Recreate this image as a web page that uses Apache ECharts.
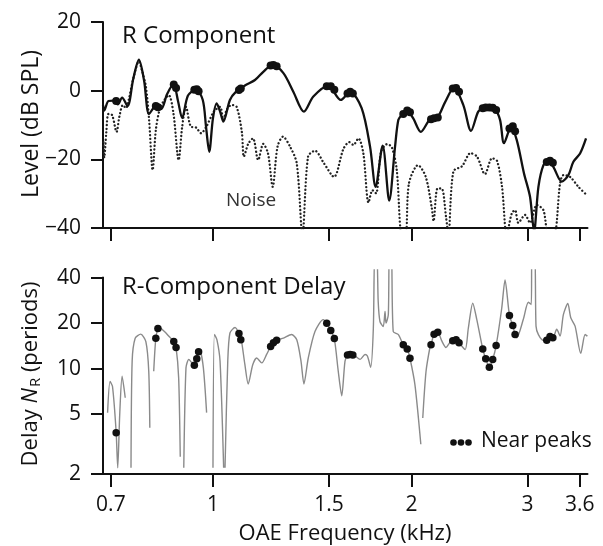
<!DOCTYPE html>
<html>
<head>
<meta charset="utf-8">
<script src="https://cdn.jsdelivr.net/npm/echarts@6/dist/echarts.min.js"></script>
<style>
  html, body { margin: 0; padding: 0; background: #ffffff; }
  #chart { width: 603px; height: 546px; }
</style>
</head>
<body>
<div id="chart"></div>
<script>
// Tick positions
const freqTicks = [0.7, 1, 1.5, 2, 3, 3.6];
const levelTicks = [-40, -20, 0, 20];
const delayTicks = [2, 5, 10, 20, 40];

// R component level (dB SPL) vs OAE frequency (kHz)
const freqR = [0.681,0.684,0.694,0.706,0.717,0.728,0.742,0.757,0.772,0.786,0.800,0.819,0.834,0.852,0.871,0.885,0.898,0.916,0.942,0.965,0.976,0.987,1.000,1.013,1.025,1.037,1.061,1.084,1.118,1.158,1.192,1.232,1.279,1.324,1.374,1.420,1.496,1.563,1.614,1.681,1.731,1.765,1.809,1.851,1.889,1.911,1.934,1.971,2.013,2.067,2.135,2.190,2.249,2.321,2.398,2.463,2.526,2.571,2.626,2.679,2.726,2.764,2.833,2.890,2.964,3.027,3.070,3.117,3.172,3.228,3.284,3.382,3.461,3.522,3.605,3.681];
const levelR = [-4.2,-5.8,-3.0,-2.9,-4.0,-2.0,-4.5,3.5,9.0,3.0,-6.8,-4.5,-5.4,-1.0,2.0,-3.0,-8.0,-1.5,0.4,-2.7,-10.5,-17.8,-8.0,-3.7,-6.0,-9.0,-2.7,-0.3,1.5,3.1,5.5,7.5,5.1,-0.3,-6.1,-1.7,1.4,-2.7,-0.3,-5.1,-16.3,-28.0,-16.0,-32.0,-16.3,-8.5,-7.1,-5.8,-8.1,-12.0,-8.3,-7.8,-3.4,0.9,-4.2,-11.7,-6.1,-5.1,-5.0,-5.4,-8.5,-15.3,-10.6,-14.4,-24.1,-30.9,-41,-28.0,-21.7,-20.4,-22.2,-26.5,-24.6,-20.7,-18.3,-13.9];

// Noise floor (dB SPL)
const freqNoise = [0.682,0.684,0.689,0.694,0.703,0.714,0.721,0.730,0.738,0.745,0.758,0.772,0.780,0.791,0.800,0.810,0.819,0.831,0.844,0.857,0.871,0.887,0.898,0.910,0.926,0.942,0.959,0.977,1.003,1.025,1.037,1.049,1.067,1.086,1.106,1.114,1.131,1.150,1.171,1.192,1.212,1.232,1.253,1.277,1.309,1.340,1.367,1.394,1.428,1.474,1.526,1.577,1.610,1.633,1.662,1.691,1.722,1.746,1.768,1.798,1.835,1.867,1.900,1.934,1.960,1.983,2.047,2.102,2.147,2.161,2.191,2.223,2.257,2.276,2.316,2.387,2.459,2.515,2.586,2.651,2.698,2.745,2.790,2.840,2.873,2.906,2.975,3.027,3.099,3.172,3.228,3.292,3.362,3.401,3.481,3.584,3.690];
const levelNoise = [-15,-19.5,-12,-6.8,-7.1,-12,-7.6,-4.2,-5.1,-2.7,4,8.5,6,1.2,-8.5,-23.1,-11.5,-5.1,-2.7,-1.3,-6.6,-20.2,-10.5,-4.7,-10.5,-10.7,-12.4,-10.5,-6.1,-4.7,-8.5,-5.6,-4.2,-4.7,-12,-19.2,-15.5,-13.9,-20.2,-15.5,-18.3,-28,-16.3,-13.4,-16.3,-21.2,-42,-19.2,-17.5,-21.2,-25.1,-17,-15,-15.8,-13.9,-18.3,-32.6,-29,-29.9,-18,-15.6,-16.4,-23,-42,-42,-27,-21.7,-25,-34,-38,-28.5,-28.5,-36.7,-42,-23.5,-22,-18.2,-19.2,-24.3,-19.7,-20.5,-28,-42,-35.7,-34.8,-38.5,-36.2,-38.5,-33.3,-34.8,-42,-42,-27,-24.6,-25.1,-28,-30.4];

// R-component delay N_R (periods); null marks a break in the curve
const freqDelay = [0.692,0.698,0.704,0.713,0.717,0.722,0.728,0.736,0.744,
  0.751,0.754,0.762,0.777,0.791,0.799,0.802,0.808,
  0.813,0.819,0.825,0.829,0.844,0.858,0.872,0.879,0.887,0.892,0.898,
  0.903,0.910,0.919,0.929,0.937,0.945,0.951,0.956,0.967,0.978,0.990,
  1.000,1.005,1.014,1.025,1.038,1.040,
  1.043,1.053,1.061,1.080,1.095,1.102,1.106,1.118,1.131,1.149,1.165,1.186,1.206,1.223,1.235,1.249,1.279,1.316,1.340,1.360,1.374,1.395,1.428,1.470,1.488,1.509,1.528,1.549,1.568,1.586,1.600,1.615,1.630,1.643,1.672,1.701,1.715,1.735,1.751,1.760,1.772,1.781,1.792,1.813,1.824,1.830,1.845,1.852,1.865,1.877,1.911,1.944,1.971,1.990,2.025,2.067,2.074,
  2.081,2.105,2.135,2.142,2.165,2.193,2.223,2.257,2.303,2.311,2.338,2.362,2.413,2.440,2.478,2.513,2.566,2.593,2.626,2.657,2.689,2.742,2.774,2.817,2.850,2.873,2.890,2.957,3.009,3.040,3.047,3.077,3.091,3.117,3.172,3.209,3.246,3.278,3.323,3.362,3.401,3.454,3.490,3.543,3.614,3.669,3.699];
const delayNR = [5.1,8.2,7.6,3.8,2.2,5.0,8.9,6.4,null,
  2.2,11.2,15.9,16.9,15.1,9.6,4.05,null,
  9.6,15.9,18.4,18.7,17.6,16.3,15.1,13.8,8.7,2.6,null,
  2.2,10.1,11.5,10.9,10.5,11.6,12.9,13.0,10.1,5.1,null,
  2.2,16.8,15.5,11.2,2.2,null,
  2.2,11.2,17.2,18.7,17.1,15.5,14.8,10.6,7.9,10.6,11.75,10.9,12.4,14.0,14.8,15.4,15.9,16.8,15.5,11.2,7.9,11.75,17.6,21.1,20.0,17.9,15.8,9.6,6.6,11.2,12.3,12.4,12.3,12.1,11.5,12.4,12.1,10.2,18.5,60,60,27.8,20.5,19.0,23.9,20.0,22.7,60,60,17.6,16.8,14.4,13.5,11.7,7.8,3.15,null,
  4.7,9.6,14.0,14.4,16.9,17.4,15.3,13.8,15.3,15.3,15.5,14.8,13.35,18.5,27.1,21.2,13.5,11.6,10.2,11.5,14.2,25.1,38.7,22.5,19.3,16.8,16.0,21.2,27.5,26.6,60,60,19.1,16.8,15.4,15.4,16.3,16.0,18.2,16.4,22.8,27.0,21.7,19.1,12.6,16.8,16.4];

// Points near spectral peaks
const peakFreq = [0.713,0.819,0.825,0.872,0.879,0.937,0.945,0.951,1.095,1.102,1.223,1.235,1.249,1.488,1.509,1.528,1.600,1.615,1.630,1.944,1.971,1.990,2.142,2.165,2.193,2.311,2.338,2.362,2.566,2.593,2.626,2.657,2.689,2.817,2.850,2.873,3.209,3.246,3.278];
const peakLevel = [-3.0,-4.5,-4.8,1.8,0.8,0.3,0.4,-0.2,0.2,0.6,7.3,7.5,7.1,1.3,1.3,0.3,-0.8,-0.3,-0.8,-6.8,-5.8,-6.3,-8.3,-8.0,-7.8,0.6,0.8,-0.3,-5.1,-4.9,-4.9,-5.0,-5.6,-11.0,-10.4,-11.8,-20.8,-20.4,-21.0];
const peakDelay = [3.76,15.9,18.4,15.1,13.8,10.5,11.6,12.9,17.1,15.5,14.0,14.8,15.4,20.0,17.9,15.8,12.3,12.4,12.3,14.4,13.5,11.7,14.4,16.9,17.4,15.3,15.5,14.8,13.5,11.6,10.2,11.5,14.2,22.5,19.3,16.8,15.4,16.3,16.0];

const FONT = 'Open Sans';
const INK = '#111111';
const FREQ_MIN = 0.681, FREQ_MAX = 3.70;
const DELAY_MIN = 2, DELAY_MAX = 45;

const pairs = (xs, ys) => xs.map((x, i) => [x, ys[i] === null ? '-' : ys[i]]);

const axisLineStyle = { color: INK, width: 2 };
const freqAxis = (gridIndex, showLabels) => ({
  type: 'log', logBase: 10, gridIndex,
  min: FREQ_MIN, max: FREQ_MAX,
  axisLine: { onZero: false, lineStyle: axisLineStyle },
  axisTick: { customValues: freqTicks, length: 13, lineStyle: { color: INK, width: 2 } },
  minorTick: { show: false },
  splitLine: { show: false },
  axisLabel: {
    show: showLabels, customValues: freqTicks, margin: 21,
    fontFamily: FONT, fontSize: 21, color: INK,
    formatter: v => String(v)
  }
});

const chart = echarts.init(document.getElementById('chart'), null, { renderer: 'canvas' });

chart.setOption({
  animation: false,
  backgroundColor: '#ffffff',
  grid: [
    { left: 103, right: 15.5, top: 22, height: 206 },
    { left: 103, right: 15.5, top: 270, height: 204 }
  ],
  xAxis: [freqAxis(0, false), freqAxis(1, true)],
  yAxis: [
    {
      type: 'value', gridIndex: 0, min: -40, max: 20, interval: 20,
      axisLine: { show: true, lineStyle: axisLineStyle },
      axisTick: { show: true, length: 12, lineStyle: { color: INK, width: 2 } },
      splitLine: { show: false },
      axisLabel: {
        margin: 22, fontFamily: FONT, fontSize: 21, color: INK,
        formatter: v => (v < 0 ? '\u2212' + Math.abs(v) : String(v))
      }
    },
    {
      type: 'log', logBase: 10, gridIndex: 1, min: DELAY_MIN, max: DELAY_MAX,
      axisLine: { show: false },
      axisTick: { show: true, customValues: delayTicks, length: 12, lineStyle: { color: INK, width: 2 } },
      minorTick: { show: false },
      splitLine: { show: false },
      axisLabel: {
        customValues: delayTicks, margin: 22, fontFamily: FONT, fontSize: 21, color: INK,
        formatter: v => String(v)
      }
    }
  ],
  series: [
    {
      name: 'Noise', type: 'line', xAxisIndex: 0, yAxisIndex: 0,
      data: pairs(freqNoise, levelNoise),
      showSymbol: false, symbol: 'none', smooth: 0.3,
      lineStyle: { color: '#222222', width: 2.3, type: [0.1, 3.6], cap: 'round' },
      z: 2
    },
    {
      name: 'R Component', type: 'line', xAxisIndex: 0, yAxisIndex: 0,
      data: pairs(freqR, levelR),
      showSymbol: false, symbol: 'none', smooth: 0.3,
      lineStyle: { color: INK, width: 2.3 },
      z: 3
    },
    {
      name: 'Level near peaks', type: 'scatter', xAxisIndex: 0, yAxisIndex: 0,
      data: pairs(peakFreq, peakLevel),
      symbol: 'circle', symbolSize: 8,
      itemStyle: { color: INK, opacity: 1 },
      z: 4
    },
    {
      name: 'Delay', type: 'line', xAxisIndex: 1, yAxisIndex: 1,
      data: pairs(freqDelay, delayNR),
      showSymbol: false, symbol: 'none', smooth: 0.25,
      lineStyle: { color: '#8a8a8a', width: 1.4 },
      z: 2
    },
    {
      name: 'Near peaks', type: 'scatter', xAxisIndex: 1, yAxisIndex: 1,
      data: pairs(peakFreq, peakDelay),
      symbol: 'circle', symbolSize: 7.5,
      itemStyle: { color: INK, opacity: 1 },
      z: 4
    }
  ]
});

// Left axis line of the delay panel spans the labelled range only
const axTop = chart.convertToPixel({ gridIndex: 1 }, [FREQ_MIN, 40]);
const axBot = chart.convertToPixel({ gridIndex: 1 }, [FREQ_MIN, DELAY_MIN]);

const textStyle = (size, extra) => Object.assign({ fontFamily: FONT, fontSize: size, fill: INK }, extra || {});

chart.setOption({
  graphic: [
    { type: 'line', shape: { x1: axTop[0], y1: axTop[1] - 1, x2: axBot[0], y2: axBot[1] + 1 },
      style: { stroke: INK, lineWidth: 2 }, z: 10 },
    { type: 'text', x: 122, y: 36,
      style: textStyle(24, { text: 'R Component', align: 'left', verticalAlign: 'middle' }) },
    { type: 'text', x: 122, y: 287,
      style: textStyle(24, { text: 'R-Component Delay', align: 'left', verticalAlign: 'middle' }) },
    { type: 'text', x: 226, y: 201,
      style: textStyle(19, { text: 'Noise', align: 'left', verticalAlign: 'middle', fill: '#333333' }) },
    { type: 'circle', shape: { cx: 453.5, cy: 442.5, r: 3.3 }, style: { fill: INK } },
    { type: 'circle', shape: { cx: 461, cy: 442.5, r: 3.3 }, style: { fill: INK } },
    { type: 'circle', shape: { cx: 468.5, cy: 442.5, r: 3.3 }, style: { fill: INK } },
    { type: 'text', x: 481, y: 441,
      style: textStyle(21, { text: 'Near peaks', align: 'left', verticalAlign: 'middle' }) },
    { type: 'text', x: 31, y: 124, rotation: Math.PI / 2,
      style: textStyle(23, { text: 'Level (dB SPL)', align: 'center', verticalAlign: 'middle' }) },
    { type: 'text', x: 31, y: 374, rotation: Math.PI / 2,
      style: {
        text: '{a|Delay }{i|N}{s|R}{a| (periods)}',
        align: 'center', verticalAlign: 'middle',
        fontFamily: FONT, fontSize: 22, fill: INK,
        rich: {
          a: { fontFamily: FONT, fontSize: 22, fill: INK },
          i: { fontFamily: FONT, fontSize: 22, fontStyle: 'italic', fill: INK },
          s: { fontFamily: FONT, fontSize: 15, fill: INK, padding: [9, 0, 0, 1] }
        }
      } },
    { type: 'text', x: 345, y: 534,
      style: textStyle(22, { text: 'OAE Frequency (kHz)', align: 'center', verticalAlign: 'middle' }) }
  ]
});
</script>
</body>
</html>
